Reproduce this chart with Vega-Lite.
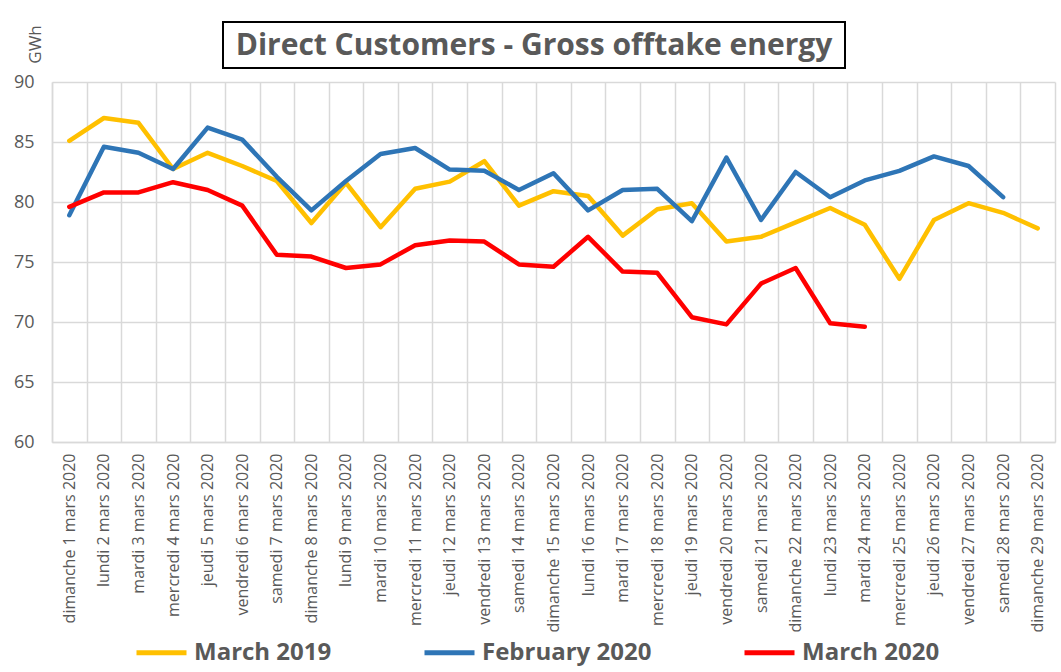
{
  "$schema": "https://vega.github.io/schema/vega-lite/v6.json",
  "padding": {"left": 13, "top": 21, "right": 4, "bottom": 20},
  "background": "#ffffff",
  "config": {"view": {"stroke": null}, "font": "Open Sans"},
  "bounds": "flush",
  "spacing": 60,
  "vconcat": [
    {
      "spacing": 0,
      "hconcat": [
        {
          "width": 170,
          "height": 46,
          "view": {"stroke": null},
          "data": {"values": [{"t": ""}]},
          "mark": {"type": "text"},
          "encoding": {"text": {"field": "t"}}
        },
        {
          "width": 622,
          "height": 46,
          "view": {"stroke": "#000000", "strokeWidth": 2},
          "data": {"values": [{"t": "Direct Customers - Gross offtake energy"}]},
          "mark": {"type": "text", "font": "Open Sans", "fontSize": 30, "fontWeight": "bold", "color": "#595959", "align": "center", "baseline": "middle", "dy": 1},
          "encoding": {"text": {"field": "t"}}
        }
      ]
    },
    {
      "width": 1003,
      "height": 360,
      "data": {
        "values": [
          {"day": "dimanche 1 mars 2020", "series": "March 2019", "value": 85.1},
          {"day": "lundi 2 mars 2020", "series": "March 2019", "value": 87.0},
          {"day": "mardi 3 mars 2020", "series": "March 2019", "value": 86.6},
          {"day": "mercredi 4 mars 2020", "series": "March 2019", "value": 82.75},
          {"day": "jeudi 5 mars 2020", "series": "March 2019", "value": 84.1},
          {"day": "vendredi 6 mars 2020", "series": "March 2019", "value": 83.0},
          {"day": "samedi 7 mars 2020", "series": "March 2019", "value": 81.75},
          {"day": "dimanche 8 mars 2020", "series": "March 2019", "value": 78.25},
          {"day": "lundi 9 mars 2020", "series": "March 2019", "value": 81.6},
          {"day": "mardi 10 mars 2020", "series": "March 2019", "value": 77.9},
          {"day": "mercredi 11 mars 2020", "series": "March 2019", "value": 81.1},
          {"day": "jeudi 12 mars 2020", "series": "March 2019", "value": 81.7},
          {"day": "vendredi 13 mars 2020", "series": "March 2019", "value": 83.4},
          {"day": "samedi 14 mars 2020", "series": "March 2019", "value": 79.7},
          {"day": "dimanche 15 mars 2020", "series": "March 2019", "value": 80.9},
          {"day": "lundi 16 mars 2020", "series": "March 2019", "value": 80.5},
          {"day": "mardi 17 mars 2020", "series": "March 2019", "value": 77.2},
          {"day": "mercredi 18 mars 2020", "series": "March 2019", "value": 79.4},
          {"day": "jeudi 19 mars 2020", "series": "March 2019", "value": 79.9},
          {"day": "vendredi 20 mars 2020", "series": "March 2019", "value": 76.7},
          {"day": "samedi 21 mars 2020", "series": "March 2019", "value": 77.1},
          {"day": "dimanche 22 mars 2020", "series": "March 2019", "value": 78.3},
          {"day": "lundi 23 mars 2020", "series": "March 2019", "value": 79.5},
          {"day": "mardi 24 mars 2020", "series": "March 2019", "value": 78.1},
          {"day": "mercredi 25 mars 2020", "series": "March 2019", "value": 73.6},
          {"day": "jeudi 26 mars 2020", "series": "March 2019", "value": 78.5},
          {"day": "vendredi 27 mars 2020", "series": "March 2019", "value": 79.9},
          {"day": "samedi 28 mars 2020", "series": "March 2019", "value": 79.1},
          {"day": "dimanche 29 mars 2020", "series": "March 2019", "value": 77.8},
          {"day": "dimanche 1 mars 2020", "series": "February 2020", "value": 78.9},
          {"day": "lundi 2 mars 2020", "series": "February 2020", "value": 84.6},
          {"day": "mardi 3 mars 2020", "series": "February 2020", "value": 84.1},
          {"day": "mercredi 4 mars 2020", "series": "February 2020", "value": 82.75},
          {"day": "jeudi 5 mars 2020", "series": "February 2020", "value": 86.2},
          {"day": "vendredi 6 mars 2020", "series": "February 2020", "value": 85.2},
          {"day": "samedi 7 mars 2020", "series": "February 2020", "value": 82.1},
          {"day": "dimanche 8 mars 2020", "series": "February 2020", "value": 79.3},
          {"day": "lundi 9 mars 2020", "series": "February 2020", "value": 81.75},
          {"day": "mardi 10 mars 2020", "series": "February 2020", "value": 84.0},
          {"day": "mercredi 11 mars 2020", "series": "February 2020", "value": 84.5},
          {"day": "jeudi 12 mars 2020", "series": "February 2020", "value": 82.7},
          {"day": "vendredi 13 mars 2020", "series": "February 2020", "value": 82.6},
          {"day": "samedi 14 mars 2020", "series": "February 2020", "value": 81.0},
          {"day": "dimanche 15 mars 2020", "series": "February 2020", "value": 82.4},
          {"day": "lundi 16 mars 2020", "series": "February 2020", "value": 79.3},
          {"day": "mardi 17 mars 2020", "series": "February 2020", "value": 81.0},
          {"day": "mercredi 18 mars 2020", "series": "February 2020", "value": 81.1},
          {"day": "jeudi 19 mars 2020", "series": "February 2020", "value": 78.4},
          {"day": "vendredi 20 mars 2020", "series": "February 2020", "value": 83.7},
          {"day": "samedi 21 mars 2020", "series": "February 2020", "value": 78.5},
          {"day": "dimanche 22 mars 2020", "series": "February 2020", "value": 82.5},
          {"day": "lundi 23 mars 2020", "series": "February 2020", "value": 80.4},
          {"day": "mardi 24 mars 2020", "series": "February 2020", "value": 81.8},
          {"day": "mercredi 25 mars 2020", "series": "February 2020", "value": 82.6},
          {"day": "jeudi 26 mars 2020", "series": "February 2020", "value": 83.8},
          {"day": "vendredi 27 mars 2020", "series": "February 2020", "value": 83.0},
          {"day": "samedi 28 mars 2020", "series": "February 2020", "value": 80.4},
          {"day": "dimanche 1 mars 2020", "series": "March 2020", "value": 79.6},
          {"day": "lundi 2 mars 2020", "series": "March 2020", "value": 80.8},
          {"day": "mardi 3 mars 2020", "series": "March 2020", "value": 80.8},
          {"day": "mercredi 4 mars 2020", "series": "March 2020", "value": 81.65},
          {"day": "jeudi 5 mars 2020", "series": "March 2020", "value": 81.0},
          {"day": "vendredi 6 mars 2020", "series": "March 2020", "value": 79.7},
          {"day": "samedi 7 mars 2020", "series": "March 2020", "value": 75.6},
          {"day": "dimanche 8 mars 2020", "series": "March 2020", "value": 75.45},
          {"day": "lundi 9 mars 2020", "series": "March 2020", "value": 74.5},
          {"day": "mardi 10 mars 2020", "series": "March 2020", "value": 74.8},
          {"day": "mercredi 11 mars 2020", "series": "March 2020", "value": 76.4},
          {"day": "jeudi 12 mars 2020", "series": "March 2020", "value": 76.8},
          {"day": "vendredi 13 mars 2020", "series": "March 2020", "value": 76.7},
          {"day": "samedi 14 mars 2020", "series": "March 2020", "value": 74.8},
          {"day": "dimanche 15 mars 2020", "series": "March 2020", "value": 74.6},
          {"day": "lundi 16 mars 2020", "series": "March 2020", "value": 77.1},
          {"day": "mardi 17 mars 2020", "series": "March 2020", "value": 74.2},
          {"day": "mercredi 18 mars 2020", "series": "March 2020", "value": 74.1},
          {"day": "jeudi 19 mars 2020", "series": "March 2020", "value": 70.4},
          {"day": "vendredi 20 mars 2020", "series": "March 2020", "value": 69.8},
          {"day": "samedi 21 mars 2020", "series": "March 2020", "value": 73.2},
          {"day": "dimanche 22 mars 2020", "series": "March 2020", "value": 74.5},
          {"day": "lundi 23 mars 2020", "series": "March 2020", "value": 69.9},
          {"day": "mardi 24 mars 2020", "series": "March 2020", "value": 69.6}
        ]
      },
      "mark": {"type": "line", "strokeWidth": 4.5, "strokeCap": "round", "strokeJoin": "round"},
      "encoding": {
        "x": {
          "field": "day",
          "type": "ordinal",
          "sort": null,
          "scale": {"type": "band", "paddingInner": 0, "paddingOuter": 0},
          "axis": {
            "title": null,
            "labelAngle": -90,
            "tickBand": "extent",
            "grid": true,
            "gridColor": "#D9D9D9",
            "gridWidth": 1.5,
            "ticks": false,
            "domainColor": "#D9D9D9",
            "domainWidth": 1.5,
            "labelFont": "Open Sans",
            "labelFontSize": 16,
            "labelLimit": 300,
            "labelColor": "#595959",
            "labelPadding": 11
          }
        },
        "y": {
          "field": "value",
          "type": "quantitative",
          "scale": {"domain": [60, 90], "nice": false, "zero": false},
          "axis": {
            "values": [60, 65, 70, 75, 80, 85, 90],
            "title": "GWh",
            "titleAngle": -90,
            "titleX": -17,
            "titleY": -38,
            "titleAlign": "center",
            "titleBaseline": "middle",
            "titleFont": "Open Sans",
            "titleFontSize": 17,
            "titleFontWeight": "normal",
            "titleColor": "#595959",
            "grid": true,
            "gridColor": "#D9D9D9",
            "gridWidth": 1.5,
            "ticks": false,
            "domainColor": "#D9D9D9",
            "domainWidth": 1.5,
            "labelFont": "Open Sans",
            "labelFontSize": 18,
            "labelColor": "#595959",
            "labelPadding": 18
          }
        },
        "color": {
          "field": "series",
          "type": "nominal",
          "scale": {"domain": ["March 2019", "February 2020", "March 2020"], "range": ["#FFC000", "#2E75B6", "#FF0000"]},
          "legend": {
            "title": null,
            "orient": "none",
            "legendX": 82,
            "legendY": 603,
            "direction": "horizontal",
            "symbolType": "stroke",
            "symbolSize": 2500,
            "symbolStrokeWidth": 5,
            "labelFont": "Open Sans",
            "labelFontSize": 24,
            "labelFontWeight": "bold",
            "labelColor": "#595959",
            "labelLimit": 400,
            "labelOffset": 5,
            "columnPadding": 82
          }
        }
      }
    }
  ]
}
